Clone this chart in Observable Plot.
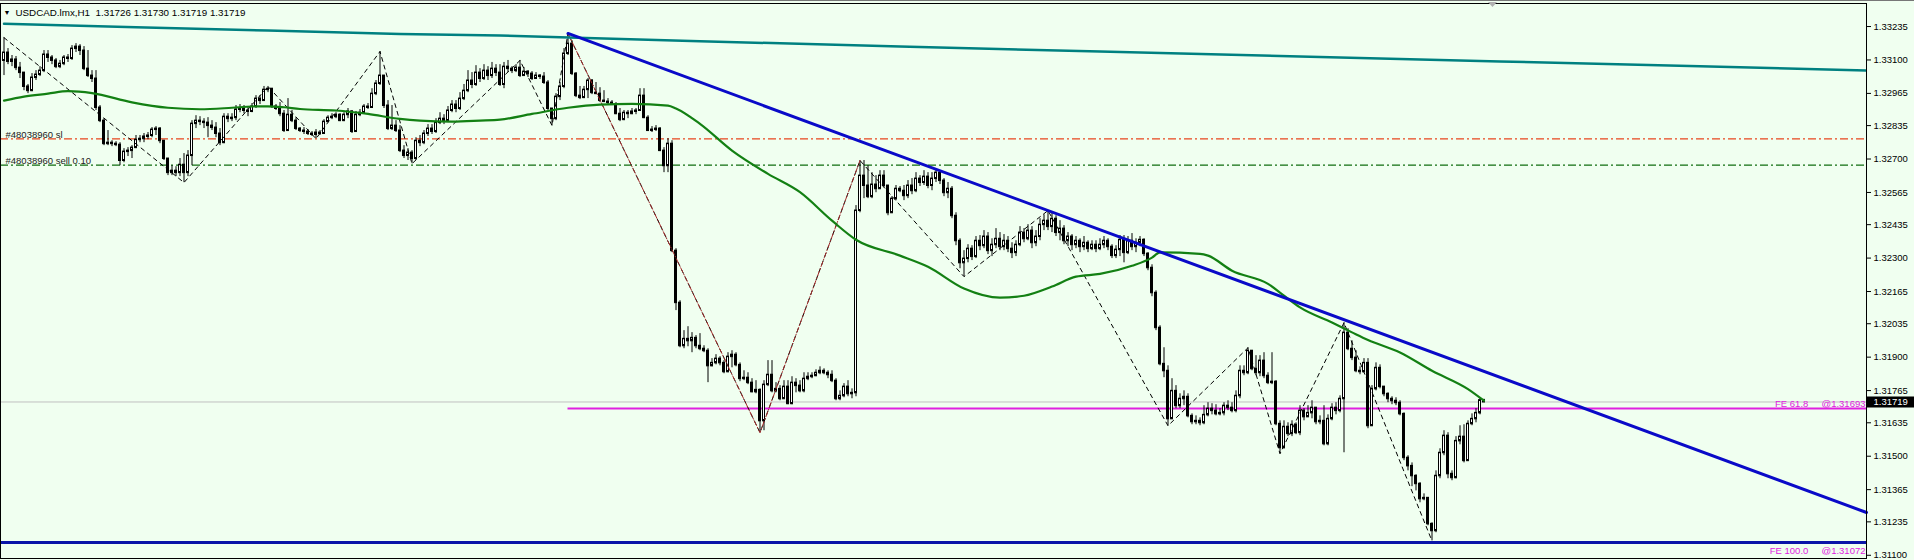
<!DOCTYPE html>
<html><head><meta charset="utf-8">
<script src="https://cdn.jsdelivr.net/npm/d3@7"></script>
<script src="https://cdn.jsdelivr.net/npm/@observablehq/plot@0.6"></script>
<style>
html,body{margin:0;padding:0;background:#f0fff0;overflow:hidden;}
#chart svg{display:block;}
</style></head><body><div id="chart"></div>
<script>
const symbol = "USDCAD.lmx,H1";
const firstOpen = 1.33098;
const high = [
1.33190,1.33146,1.33118,1.33114,1.33090,1.33041,1.33001,1.33045,1.33057,1.33073,
1.33138,1.33138,1.33118,1.33106,1.33098,1.33118,1.33122,1.33158,1.33166,1.33162,
1.33154,1.33138,1.33057,1.33057,1.32916,1.32863,1.32815,1.32774,1.32770,1.32766,
1.32742,1.32746,1.32754,1.32795,1.32795,1.32803,1.32807,1.32827,1.32831,1.32827,
1.32774,1.32702,1.32673,1.32669,1.32702,1.32722,1.32734,1.32855,1.32875,1.32871,
1.32863,1.32867,1.32855,1.32847,1.32823,1.32883,1.32883,1.32883,1.32916,1.32920,
1.32916,1.32908,1.32924,1.32956,1.32956,1.32993,1.32993,1.32984,1.32920,1.32928,
1.32896,1.32944,1.32896,1.32867,1.32827,1.32827,1.32819,1.32811,1.32819,1.32815,
1.32859,1.32875,1.32883,1.32887,1.32883,1.32887,1.32904,1.32896,1.32892,1.32900,
1.32920,1.32924,1.32984,1.33017,1.33134,1.33037,1.32936,1.32916,1.32855,1.32835,
1.32754,1.32742,1.32734,1.32786,1.32795,1.32815,1.32839,1.32839,1.32863,1.32887,
1.32879,1.32912,1.32936,1.32936,1.32968,1.33001,1.33057,1.33049,1.33077,1.33065,
1.33081,1.33073,1.33090,1.33081,1.33081,1.33090,1.33098,1.33073,1.33081,1.33098,
1.33069,1.33057,1.33053,1.33049,1.33041,1.33049,1.33017,1.32904,1.32964,1.33009,
1.33146,1.33207,1.33178,1.33049,1.32993,1.32993,1.33025,1.33021,1.33009,1.32988,
1.32976,1.32944,1.32936,1.32928,1.32904,1.32896,1.32896,1.32904,1.32904,1.32984,
1.32984,1.32875,1.32831,1.32835,1.32827,1.32746,1.32782,1.32774,1.32338,1.32128,
1.32007,1.32023,1.31999,1.31987,1.31995,1.31946,1.31934,1.31894,1.31910,1.31902,
1.31886,1.31918,1.31926,1.31918,1.31877,1.31845,1.31837,1.31813,1.31805,1.31772,
1.31805,1.31886,1.31886,1.31797,1.31785,1.31805,1.31805,1.31821,1.31813,1.31805,
1.31837,1.31837,1.31837,1.31849,1.31861,1.31853,1.31845,1.31845,1.31813,1.31764,
1.31793,1.31805,1.31772,1.32512,1.32694,1.32694,1.32673,1.32645,1.32633,1.32653,
1.32653,1.32593,1.32548,1.32593,1.32589,1.32593,1.32613,1.32621,1.32645,1.32633,
1.32653,1.32645,1.32645,1.32661,1.32653,1.32621,1.32605,1.32589,1.32483,1.32378,
1.32330,1.32354,1.32350,1.32387,1.32391,1.32411,1.32403,1.32378,1.32419,1.32403,
1.32395,1.32387,1.32362,1.32370,1.32427,1.32419,1.32435,1.32427,1.32411,1.32459,
1.32475,1.32492,1.32483,1.32471,1.32451,1.32431,1.32403,1.32395,1.32387,1.32378,
1.32387,1.32370,1.32370,1.32370,1.32378,1.32387,1.32378,1.32354,1.32350,1.32391,
1.32391,1.32387,1.32399,1.32378,1.32387,1.32378,1.32322,1.32273,1.32168,1.32027,
1.31938,1.31865,1.31813,1.31785,1.31752,1.31764,1.31752,1.31671,1.31663,1.31655,
1.31704,1.31716,1.31712,1.31708,1.31692,1.31716,1.31724,1.31716,1.31764,1.31865,
1.31865,1.31938,1.31926,1.31906,1.31906,1.31918,1.31837,1.31918,1.31805,1.31643,
1.31643,1.31635,1.31643,1.31635,1.31704,1.31692,1.31704,1.31724,1.31692,1.31663,
1.31704,1.31667,1.31712,1.31716,1.31744,1.32039,1.32015,1.31966,1.31926,1.31861,
1.31894,1.31894,1.31785,1.31877,1.31869,1.31781,1.31756,1.31740,1.31736,1.31724,
1.31675,1.31502,1.31473,1.31425,1.31393,1.31348,1.31328,1.31231,1.31441,1.31530,
1.31603,1.31595,1.31441,1.31579,1.31623,1.31627,1.31643,1.31671,1.31692,1.31736,
1.31730];
const low = [
1.33037,1.33081,1.33073,1.33057,1.33025,1.32976,1.32964,1.32972,1.33017,1.33033,
1.33049,1.33090,1.33081,1.33065,1.33065,1.33077,1.33090,1.33098,1.33130,1.33118,
1.33057,1.33029,1.33009,1.32896,1.32847,1.32754,1.32754,1.32750,1.32750,1.32673,
1.32685,1.32710,1.32702,1.32742,1.32766,1.32766,1.32778,1.32786,1.32795,1.32762,
1.32694,1.32633,1.32633,1.32629,1.32629,1.32605,1.32629,1.32673,1.32823,1.32835,
1.32823,1.32786,1.32815,1.32786,1.32754,1.32762,1.32847,1.32851,1.32855,1.32887,
1.32883,1.32871,1.32887,1.32904,1.32920,1.32936,1.32968,1.32904,1.32896,1.32871,
1.32807,1.32811,1.32847,1.32815,1.32807,1.32799,1.32795,1.32791,1.32782,1.32795,
1.32799,1.32847,1.32859,1.32863,1.32851,1.32851,1.32863,1.32803,1.32807,1.32871,
1.32883,1.32900,1.32904,1.32956,1.32997,1.32904,1.32815,1.32815,1.32807,1.32726,
1.32702,1.32694,1.32681,1.32694,1.32750,1.32758,1.32791,1.32799,1.32803,1.32839,
1.32839,1.32847,1.32887,1.32887,1.32896,1.32936,1.32968,1.32984,1.32993,1.33009,
1.33017,1.33017,1.33025,1.33033,1.32993,1.32984,1.33049,1.33045,1.33049,1.33029,
1.33037,1.33029,1.33017,1.33025,1.33021,1.33001,1.32896,1.32835,1.32855,1.32936,
1.32984,1.33118,1.33037,1.32948,1.32940,1.32944,1.32944,1.32960,1.32960,1.32928,
1.32928,1.32920,1.32916,1.32879,1.32851,1.32855,1.32863,1.32879,1.32879,1.32892,
1.32863,1.32811,1.32807,1.32811,1.32730,1.32645,1.32645,1.32322,1.32088,1.31938,
1.31934,1.31942,1.31918,1.31934,1.31926,1.31918,1.31797,1.31861,1.31869,1.31865,
1.31833,1.31837,1.31857,1.31861,1.31801,1.31805,1.31789,1.31756,1.31752,1.31595,
1.31603,1.31781,1.31756,1.31756,1.31724,1.31732,1.31708,1.31708,1.31756,1.31756,
1.31756,1.31805,1.31813,1.31821,1.31829,1.31829,1.31813,1.31797,1.31724,1.31724,
1.31736,1.31740,1.31732,1.31740,1.32483,1.32540,1.32540,1.32540,1.32564,1.32580,
1.32584,1.32471,1.32512,1.32532,1.32564,1.32532,1.32540,1.32556,1.32564,1.32589,
1.32593,1.32580,1.32572,1.32605,1.32597,1.32548,1.32540,1.32459,1.32350,1.32257,
1.32225,1.32281,1.32290,1.32298,1.32330,1.32338,1.32314,1.32306,1.32338,1.32330,
1.32330,1.32322,1.32298,1.32306,1.32346,1.32362,1.32370,1.32338,1.32346,1.32370,
1.32411,1.32411,1.32403,1.32387,1.32370,1.32354,1.32346,1.32330,1.32338,1.32322,
1.32330,1.32322,1.32330,1.32322,1.32330,1.32338,1.32330,1.32298,1.32298,1.32306,
1.32281,1.32314,1.32330,1.32322,1.32346,1.32306,1.32249,1.32144,1.32007,1.31865,
1.31817,1.31623,1.31651,1.31692,1.31692,1.31704,1.31655,1.31627,1.31627,1.31623,
1.31627,1.31659,1.31667,1.31663,1.31663,1.31663,1.31684,1.31675,1.31675,1.31732,
1.31825,1.31829,1.31845,1.31825,1.31821,1.31813,1.31789,1.31789,1.31623,1.31510,
1.31530,1.31579,1.31579,1.31587,1.31583,1.31643,1.31659,1.31651,1.31627,1.31627,
1.31542,1.31542,1.31643,1.31667,1.31675,1.31514,1.31926,1.31886,1.31837,1.31829,
1.31837,1.31611,1.31623,1.31764,1.31772,1.31740,1.31716,1.31708,1.31704,1.31663,
1.31482,1.31441,1.31377,1.31360,1.31312,1.31320,1.31219,1.31158,1.31191,1.31409,
1.31502,1.31409,1.31401,1.31409,1.31546,1.31473,1.31482,1.31623,1.31635,1.31667,
1.31719];
const close = [
1.33130,1.33094,1.33102,1.33069,1.33049,1.32993,1.32976,1.33029,1.33041,1.33057,
1.33122,1.33110,1.33098,1.33073,1.33085,1.33110,1.33106,1.33146,1.33154,1.33138,
1.33065,1.33037,1.33025,1.32908,1.32855,1.32762,1.32766,1.32762,1.32758,1.32694,
1.32730,1.32734,1.32746,1.32778,1.32782,1.32791,1.32795,1.32819,1.32823,1.32774,
1.32702,1.32645,1.32653,1.32645,1.32677,1.32645,1.32714,1.32843,1.32855,1.32851,
1.32847,1.32835,1.32827,1.32803,1.32766,1.32871,1.32863,1.32867,1.32900,1.32904,
1.32896,1.32892,1.32912,1.32944,1.32936,1.32980,1.32984,1.32912,1.32904,1.32883,
1.32815,1.32879,1.32855,1.32823,1.32815,1.32811,1.32803,1.32799,1.32807,1.32803,
1.32851,1.32867,1.32871,1.32879,1.32855,1.32879,1.32892,1.32811,1.32879,1.32887,
1.32912,1.32908,1.32964,1.33005,1.33037,1.32916,1.32823,1.32835,1.32815,1.32734,
1.32714,1.32726,1.32702,1.32774,1.32766,1.32803,1.32823,1.32811,1.32847,1.32863,
1.32855,1.32896,1.32920,1.32904,1.32944,1.32976,1.33017,1.33001,1.33049,1.33025,
1.33057,1.33037,1.33065,1.33049,1.33001,1.33073,1.33065,1.33057,1.33069,1.33037,
1.33053,1.33045,1.33025,1.33037,1.33033,1.33009,1.32904,1.32863,1.32952,1.32993,
1.33126,1.33166,1.33045,1.32956,1.32948,1.32980,1.33017,1.32968,1.32964,1.32936,
1.32932,1.32928,1.32920,1.32883,1.32859,1.32887,1.32883,1.32892,1.32896,1.32956,
1.32867,1.32815,1.32819,1.32823,1.32734,1.32673,1.32762,1.32330,1.32120,1.31946,
1.31974,1.31966,1.31978,1.31946,1.31934,1.31926,1.31865,1.31877,1.31894,1.31877,
1.31841,1.31902,1.31910,1.31869,1.31813,1.31817,1.31797,1.31760,1.31768,1.31643,
1.31789,1.31829,1.31764,1.31772,1.31732,1.31781,1.31712,1.31797,1.31785,1.31764,
1.31813,1.31821,1.31825,1.31837,1.31845,1.31837,1.31829,1.31805,1.31732,1.31744,
1.31781,1.31752,1.31756,1.32492,1.32633,1.32593,1.32548,1.32597,1.32580,1.32633,
1.32593,1.32483,1.32540,1.32580,1.32572,1.32552,1.32593,1.32572,1.32621,1.32605,
1.32629,1.32593,1.32621,1.32645,1.32613,1.32564,1.32580,1.32471,1.32370,1.32281,
1.32298,1.32338,1.32306,1.32370,1.32350,1.32387,1.32330,1.32354,1.32378,1.32346,
1.32370,1.32338,1.32322,1.32354,1.32403,1.32378,1.32411,1.32362,1.32387,1.32435,
1.32451,1.32427,1.32459,1.32403,1.32419,1.32370,1.32387,1.32354,1.32370,1.32346,
1.32362,1.32338,1.32354,1.32338,1.32354,1.32370,1.32346,1.32310,1.32334,1.32374,
1.32322,1.32370,1.32346,1.32362,1.32374,1.32318,1.32261,1.32160,1.32019,1.31873,
1.31845,1.31651,1.31764,1.31704,1.31732,1.31740,1.31663,1.31639,1.31643,1.31635,
1.31667,1.31692,1.31684,1.31671,1.31675,1.31704,1.31696,1.31684,1.31744,1.31845,
1.31837,1.31926,1.31853,1.31837,1.31886,1.31825,1.31797,1.31801,1.31631,1.31534,
1.31619,1.31591,1.31627,1.31595,1.31684,1.31659,1.31675,1.31696,1.31639,1.31643,
1.31550,1.31651,1.31696,1.31684,1.31732,1.31999,1.31934,1.31898,1.31845,1.31841,
1.31877,1.31623,1.31772,1.31857,1.31781,1.31752,1.31732,1.31724,1.31716,1.31671,
1.31494,1.31461,1.31421,1.31389,1.31328,1.31332,1.31227,1.31199,1.31421,1.31514,
1.31583,1.31429,1.31413,1.31562,1.31579,1.31482,1.31631,1.31651,1.31675,1.31726,
1.31719];

const yTicks = [1.33235,1.33100,1.32965,1.32835,1.32700,1.32565,1.32435,1.32300,1.32165,1.32035,1.31900,1.31765,1.31635,1.31500,1.31365,1.31235,1.31100];

// green moving average (bar index, value)
const maIdx = [0,5,11,16,22,32,41,49,57,62,66,70,74,83,91,99,104,112,119,124,132,141,149,157,166,168,174,182,191,199,207,213,224,231,240,249,255,262,268,274,282,287,289,299,301,307,316,320,324,332,337,341,349,357,366,370];
const maVal = [1.32936,1.32952,1.32964,1.32974,1.32966,1.32929,1.32907,1.32901,1.32907,1.32912,1.32913,1.32909,1.32902,1.32896,1.32882,1.32862,1.32855,1.32851,1.32855,1.32859,1.32882,1.32907,1.32920,1.32923,1.32916,1.32904,1.32842,1.32734,1.32640,1.32566,1.32451,1.32374,1.32310,1.32265,1.32177,1.32140,1.32148,1.32185,1.32225,1.32236,1.32269,1.32302,1.32323,1.32317,1.32310,1.32249,1.32196,1.32148,1.32101,1.32040,1.32000,1.31969,1.31919,1.31845,1.31771,1.31724];

// teal long-term average
const tealIdx = [0,33,66,99,124,174,224,274,324,374,424,466];
const tealVal = [1.33246,1.33232,1.33219,1.33205,1.33199,1.33176,1.33154,1.33134,1.33114,1.33094,1.33075,1.33057];

// zigzag pivots
const zigIdx = [0,45,66,78,94,102,129,137,141,189,214,240,261,291,311,319,335,357];
const zigVal = [1.33190,1.32605,1.32993,1.32782,1.33134,1.32681,1.33098,1.32835,1.33207,1.31595,1.32694,1.32225,1.32492,1.31623,1.31938,1.31510,1.32039,1.31158];
const zig2Idx = [141,189,214];
const zig2Val = [1.33207,1.31595,1.32694];

// trend line anchors
const trendIdx = [141,261];
const trendVal = [1.33207,1.32492];

const supportLevel = 1.31152;
const bid = 1.31719;
const orderLabels = ["#48038960 sl","#48038960 sell 0.10"];
const orderPrices = [1.32781,1.32675];
const feLabels = ["FE 61.8","FE 100.0"];
const fePrices = [1.31693,1.31072];
const feStart = 141;

const xDomain = [-0.875, 465.625];
const yDomain = [1.31087, 1.33328];

const candles = close.map((c,i)=>({i, open: i===0 ? firstOpen : close[i-1], high: high[i], low: low[i], close: c}));
const pts = (idx, val) => idx.map((i,k)=>({i, p: val[k]}));
const slope = (trendVal[1]-trendVal[0])/(trendIdx[1]-trendIdx[0]);
const trend = [{i: trendIdx[0], p: trendVal[0]}, {i: xDomain[1], p: trendVal[0] + slope*(xDomain[1]-trendIdx[0])}];
const orders = orderLabels.map((t,k)=>({t, p: orderPrices[k]}));
const fe = feLabels.map((t,k)=>({t, p: fePrices[k]}));
const feText = d => `${d.t}\u00a0\u00a0\u00a0\u00a0\u00a0@${d.p.toFixed(5)}`;
const last = candles[candles.length-1];
const title = `${symbol}\u00a0\u00a0${last.open.toFixed(5)} ${last.high.toFixed(5)} ${last.low.toFixed(5)} ${last.close.toFixed(5)}`;

const plot = Plot.plot({
  width: 1914, height: 560,
  marginLeft: 0, marginRight: 48, marginTop: 3, marginBottom: 2,
  style: {background: "#f0fff0", fontFamily: "'Liberation Sans', Arial, sans-serif", fontSize: "9.5px", color: "#000"},
  x: {domain: xDomain, axis: null},
  y: {domain: yDomain, axis: "right", ticks: yTicks, tickFormat: d => d.toFixed(5), tickSize: 4, tickPadding: 3, label: null},
  marks: [
    Plot.ruleY([bid], {stroke: "#c0c0c0", strokeWidth: 1}),
    Plot.ruleY(orders, {y: "p", stroke: (d,k)=> k===0 ? "#e8461e" : "#0f6e0f", strokeWidth: 1.2, strokeDasharray: "8,3,2,3"}),
    Plot.ruleY(fe.slice(0,1), {y: "p", x1: feStart, x2: xDomain[1], stroke: "#e020e0", strokeWidth: 2}),
    Plot.ruleY([supportLevel], {stroke: "#0a14a8", strokeWidth: 3}),
    // candles
    Plot.ruleX(candles, {x: "i", y1: d=>Math.min(d.low,d.open,d.close), y2: d=>Math.max(d.high,d.open,d.close), stroke: "#000", strokeWidth: 1}),
    Plot.rect(candles, {x1: d=>d.i-0.25, x2: d=>d.i+0.25, y1: "open", y2: "close", fill: d=> d.close>d.open ? "#fff" : "#000", stroke: "#000", strokeWidth: 1}),
    Plot.ruleY(candles, {y: "close", x1: d=>d.i-0.375, x2: d=>d.i+0.375, stroke: "#000", strokeWidth: 1}),
    Plot.ruleY(candles, {y: "open", x1: d=>d.i-0.375, x2: d=>d.i+0.375, stroke: "#000", strokeWidth: 1}),
    // indicators
    Plot.line(pts(zigIdx, zigVal), {x: "i", y: "p", stroke: "#000", strokeWidth: 1, strokeDasharray: "4,4"}),
    Plot.line(pts(zig2Idx, zig2Val), {x: "i", y: "p", stroke: "#a52a2a", strokeWidth: 1, strokeDasharray: "5,2,1,2"}),
    Plot.line(pts(tealIdx, tealVal), {x: "i", y: "p", stroke: "#008080", strokeWidth: 2.5, clip: true}),
    Plot.line(pts(maIdx, maVal), {x: "i", y: "p", stroke: "#138013", strokeWidth: 2.2, curve: "monotone-x"}),
    Plot.line(trend, {x: "i", y: "p", stroke: "#0a0ac8", strokeWidth: 3}),
    // texts
    Plot.text(orders, {frameAnchor: "left", y: "p", text: "t", dx: 5, dy: -1, lineAnchor: "bottom", textAnchor: "start", fill: "#222", fontSize: 9.5}),
    Plot.text(fe.slice(0,1), {frameAnchor: "right", y: "p", text: feText, dx: -1, dy: -1, lineAnchor: "bottom", textAnchor: "end", fill: "#e020e0", fontSize: 9.5}),
    Plot.text(fe.slice(1), {frameAnchor: "right", y: "p", text: feText, dx: -1, dy: -8, lineAnchor: "bottom", textAnchor: "end", fill: "#e020e0", fontSize: 9.5}),
    Plot.text([title], {frameAnchor: "top-left", text: d=>d, dx: 15, dy: 9, lineAnchor: "middle", textAnchor: "start", fill: "#000", fontSize: 9.8}),
    Plot.text(["\u25BC"], {frameAnchor: "top-left", text: d=>d, dx: 3, dy: 9, lineAnchor: "middle", textAnchor: "start", fill: "#000", fontSize: 7}),
    Plot.frame({stroke: "#000", strokeWidth: 1}),
    // current price tag
    Plot.ruleY([bid], {x1: xDomain[1]+0.1, x2: xDomain[1]+12, stroke: "#000", strokeWidth: 11}),
    Plot.text([bid], {y: d=>d, frameAnchor: "right", dx: 7, textAnchor: "start", text: d=>d.toFixed(5), fill: "#fff", fontSize: 9.5})
  ]
});
document.getElementById("chart").appendChild(plot);
const svg = d3.select(plot);
svg.append("line").attr("x1",0).attr("x2",1914).attr("y1",0.5).attr("y2",0.5).attr("stroke","#777");
svg.append("path").attr("d","M1488,2L1497,2L1492.5,7Z").attr("fill","#b0b0b0");
</script>
</body></html>
